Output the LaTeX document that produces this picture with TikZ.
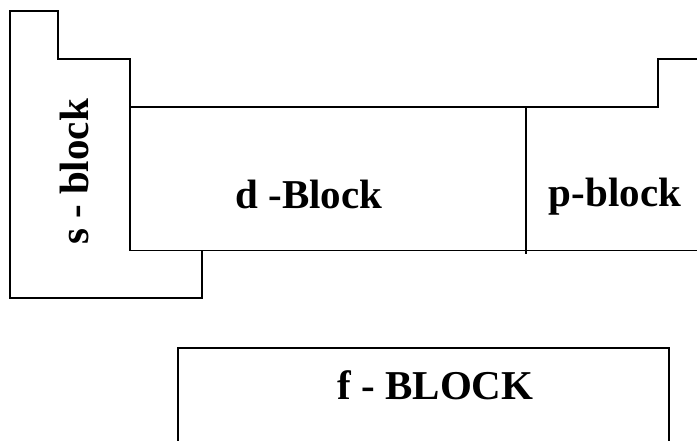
\documentclass[tikz,border=0pt]{standalone}
\usepackage{fontspec}
\setmainfont{Liberation Serif}
\tikzset{
  outline/.style={draw=black, line width=1.6pt, line join=miter},
  lbl/.style={font=\fontsize{41}{41}\selectfont\bfseries, inner sep=0pt, anchor=base}
}
\begin{document}
\begin{tikzpicture}[x=1pt,y=-1pt]
\useasboundingbox (0,0) rectangle (697,441);
\begin{scope}
\clip (0,0) rectangle (697,441);
% s-block
\draw[outline] (10,11) -- (58,11) -- (58,59) -- (130,59) -- (130,250.5) -- (202,250.5) -- (202,298) -- (10,298) -- cycle;
% d-block and p-block outline
\draw[outline] (130,107) -- (658,107) -- (658,59) -- (700,59);
\draw[outline] (130,250.5) -- (700,250.5);
\draw[outline] (526,108) -- (526,254);
% f-block
\draw[outline] (178,445) -- (178,348) -- (669,348) -- (669,445);
\end{scope}
\node[lbl, rotate=90] (s) at (88,172) {s - block};
\node[lbl] (d) at (309,209) {d -Block};
\node[lbl] (p) at (615,207) {p-block};
\node[lbl] (f) at (435.5,399) {f - BLOCK};
\end{tikzpicture}
\end{document}
